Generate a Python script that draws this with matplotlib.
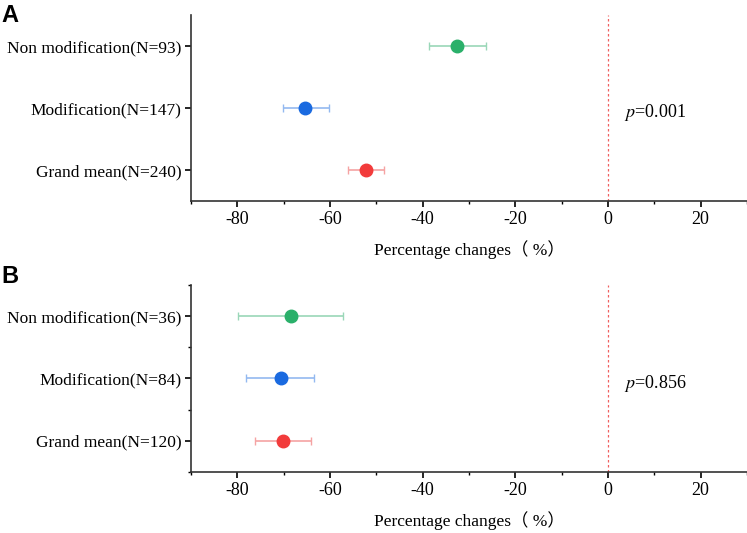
import matplotlib
matplotlib.use("Agg")
import matplotlib.pyplot as plt
from matplotlib.ticker import MultipleLocator

plt.rcParams['font.family'] = ['Liberation Serif', 'Noto Sans CJK SC', 'DejaVu Sans']
plt.rcParams['axes.unicode_minus'] = False
plt.rcParams['mathtext.fontset'] = 'stix'

# 分组标签（从下到上）
labels_a = ["Grand mean(N=240)", "Modification(N=147)", "Non modification(N=93)"]
labels_b = ["Grand mean(N=120)", "Modification(N=84)", "Non modification(N=36)"]

# 均值与误差区间（下限, 上限）
mean_a = [-52.3, -65.4, -32.5]
low_a = [-56.2, -70.2, -38.7]
high_a = [-48.4, -60.2, -26.3]

mean_b = [-70.1, -70.6, -68.5]
low_b = [-76.1, -78.1, -79.8]
high_b = [-64.0, -63.4, -57.3]

p_a = "0.001"
p_b = "0.856"

dot_colors = ["#f23b3b", "#1a6ae0", "#2ab06a"]
bar_colors = ["#f5a3a3", "#93b9f0", "#9ad7b8"]


def draw(ax, labels, mean, low, high, pval, minor_y):
    ys = list(range(1, len(labels) + 1))
    for y, m, lo, hi, c, bc in zip(ys, mean, low, high, dot_colors, bar_colors):
        ax.errorbar([m], [y], xerr=[[m - lo], [hi - m]], fmt='none',
                    ecolor=bc, elinewidth=1.2, capsize=3, capthick=1.0, zorder=2)
        ax.plot([m], [y], 'o', color=c, markersize=9, zorder=3)

    # 0处红色虚线
    ax.axvline(0, color='#f06060', linestyle=(0, (2, 2)), linewidth=0.9, zorder=1)

    ax.set_xlim(-90, 30)
    ax.set_ylim(0.5, 3.5)
    ax.set_yticks(ys)
    ax.set_yticklabels(labels, fontsize=12.5)
    if minor_y:
        ax.yaxis.set_minor_locator(MultipleLocator(0.5))
    ax.set_xticks([-80, -60, -40, -20, 0, 20])
    ax.xaxis.set_minor_locator(MultipleLocator(10))
    ax.tick_params(axis='x', labelsize=13, direction='out', length=4, width=1.2, pad=3)
    ax.tick_params(axis='y', direction='out', length=4, width=1.2, pad=3)
    ax.tick_params(which='minor', direction='out', length=2.5, width=1.0)

    ax.spines['top'].set_visible(False)
    ax.spines['right'].set_visible(False)
    for s in ('left', 'bottom'):
        ax.spines[s].set_linewidth(1.2)
        ax.spines[s].set_color('#333333')

    ax.set_xlabel("Percentage changes（ %）", fontsize=12.5, labelpad=9)
    ax.text(3.5, 1.92, "$p$=" + pval, fontsize=13, va='center', ha='left')


fig = plt.figure(figsize=(7.47, 5.33), dpi=100)
ax_a = fig.add_axes([0.2557, 0.6229, 0.7443, 0.349])
ax_b = fig.add_axes([0.2557, 0.1144, 0.7443, 0.351])

draw(ax_a, labels_a, mean_a, low_a, high_a, p_a, False)
draw(ax_b, labels_b, mean_b, low_b, high_b, p_b, True)

fig.text(0.002, 0.993, "A", fontsize=17, fontweight='bold', family='Liberation Sans', va='top')
fig.text(0.002, 0.503, "B", fontsize=17, fontweight='bold', family='Liberation Sans', va='top')

fig.savefig("out.png", dpi=100)
